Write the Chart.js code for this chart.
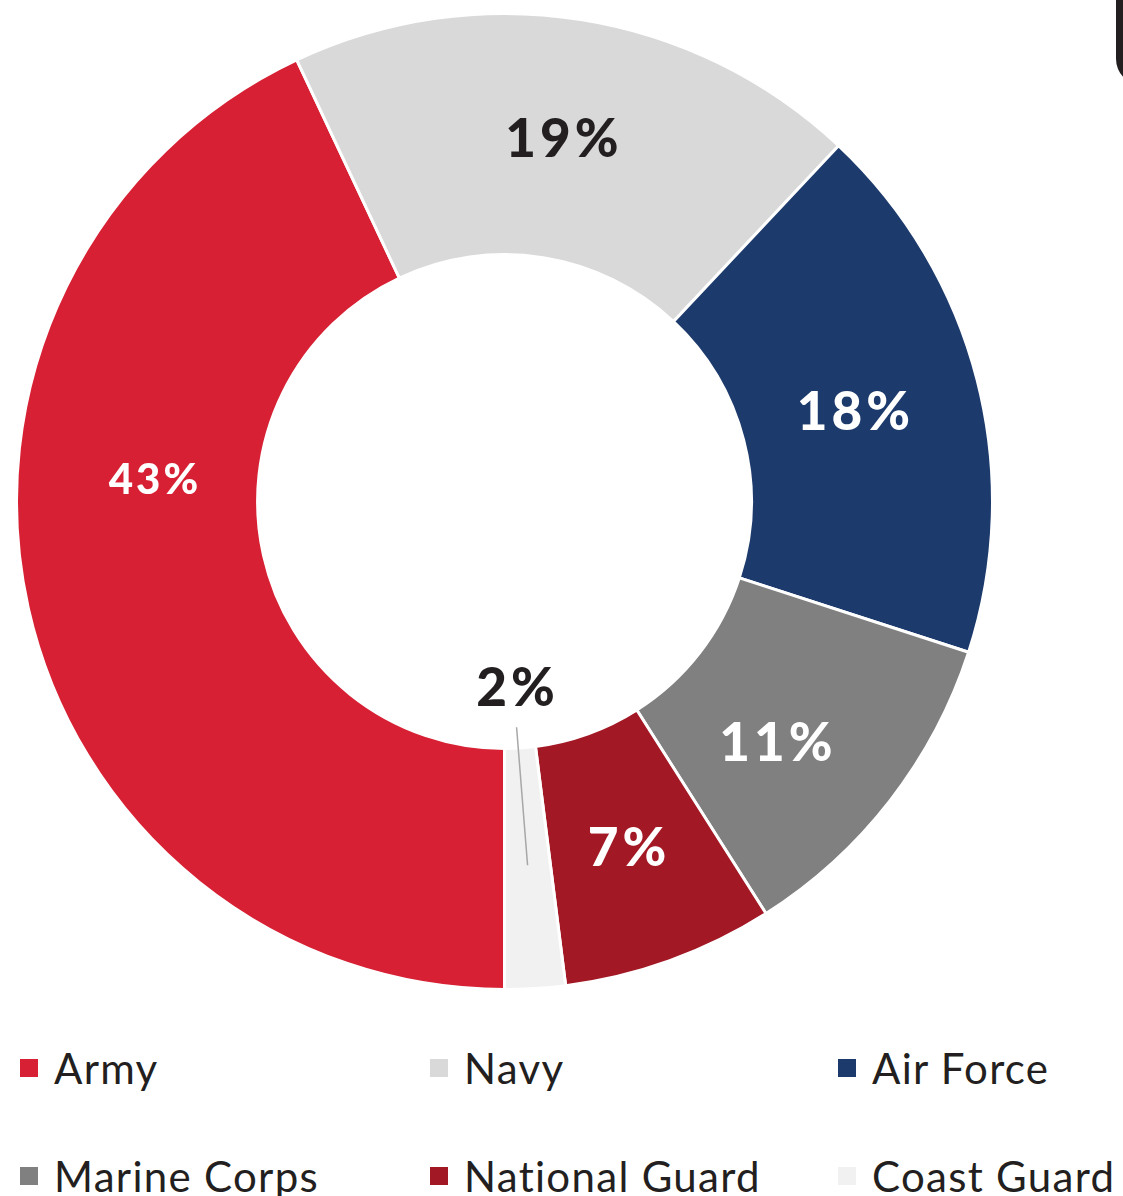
<!DOCTYPE html>
<html>
<head>
<meta charset="utf-8">
<script src="https://cdn.jsdelivr.net/npm/chart.js@4"></script>
<style>
  html, body { margin: 0; padding: 0; background: #fff; }
  body { width: 1123px; height: 1196px; position: relative; overflow: hidden; font-family: Lato, sans-serif; }
  #wrap { position: absolute; left: 15px; top: 12px; width: 979px; height: 979px; }
  #corner { position: absolute; left: 1116px; top: -30px; width: 60px; height: 115px; background: #231f20; border-radius: 26px; }
  .lg { position: absolute; display: flex; align-items: center; font-size: 42px; color: #231f20; white-space: nowrap; letter-spacing: 1.3px; }
  .lg span.sw { display: inline-block; width: 18px; height: 18px; margin-right: 16px; }
</style>
</head>
<body>
<div id="corner"></div>
<div id="wrap"><canvas id="myChart"></canvas></div>
<div id="legend"></div>
<script>
const branches = ['Army', 'Navy', 'Air Force', 'Marine Corps', 'National Guard', 'Coast Guard'];
const shares = [43, 19, 18, 11, 7, 2];
const sliceColors = ['#D72033', '#D9D9D9', '#1C3A6C', '#808080', '#A21824', '#F1F1F1'];
const labelColors = ['#ffffff', '#231f20', '#ffffff', '#ffffff', '#ffffff', '#231f20'];

// nudges for the printed labels (pixels from slice centroid)
const labelNudge = [[7, -101], [0, 1], [-7, 3], [-19, 17], [-2, 2], [-12, -179]];
const labelSize = [42, 53, 53, 53, 53, 53];

const pctLabels = {
    id: 'pctLabels',
    afterDatasetsDraw(chart) {
        const ctx = chart.ctx;
        const arcs = chart.getDatasetMeta(0).data;
        ctx.save();
        ctx.textAlign = 'center';
        ctx.textBaseline = 'middle';
        arcs.forEach((arc, i) => {
            const p = arc.tooltipPosition();
            const x = p.x + labelNudge[i][0];
            const y = p.y + labelNudge[i][1];
            if (i === 5) {
                // leader line for the thin slice
                ctx.strokeStyle = '#a7a7a7';
                ctx.lineWidth = 1.5;
                ctx.beginPath();
                ctx.moveTo(p.x, p.y - 3);
                ctx.lineTo(x + 1, y + 38);
                ctx.stroke();
            }
            ctx.fillStyle = labelColors[i];
            ctx.font = '900 ' + labelSize[i] + 'px Lato';
            ctx.letterSpacing = Math.round(labelSize[i] / 13) + 'px';
            ctx.fillText(shares[i] + '%', x + 2, y);
        });
        ctx.restore();
    }
};

new Chart('myChart', {
    type: 'doughnut',
    data: {
        labels: branches,
        datasets: [{
            data: shares,
            backgroundColor: sliceColors,
            borderColor: '#ffffff',
            borderWidth: 3
        }]
    },
    options: {
        responsive: true,
        maintainAspectRatio: false,
        animation: false,
        rotation: 180,
        cutout: '50.6%',
        layout: { padding: 0 },
        plugins: {
            legend: { display: false },
            tooltip: { enabled: false }
        }
    },
    plugins: [pctLabels]
});

// legend, 3 columns x 2 rows
const legendCols = [20, 430, 838];
const legendRows = [1068, 1176];
const legendEl = document.getElementById('legend');
branches.forEach((name, i) => {
    const item = document.createElement('div');
    item.className = 'lg';
    item.style.left = legendCols[i % 3] + 'px';
    item.style.top = (legendRows[Math.floor(i / 3)] - 27) + 'px';
    item.style.height = '54px';
    item.innerHTML = '<span class="sw" style="background:' + sliceColors[i] + '"></span>' + name;
    legendEl.appendChild(item);
});
</script>
</body>
</html>
